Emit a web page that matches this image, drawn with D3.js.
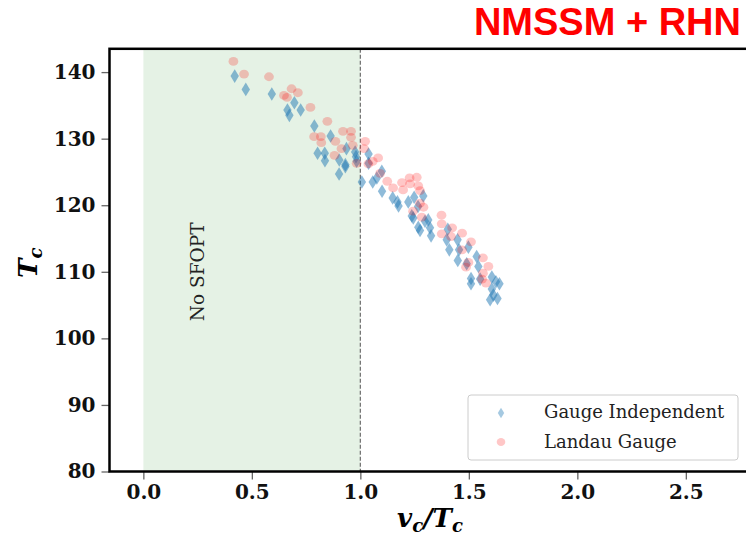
<!DOCTYPE html>
<html>
<head>
<meta charset="utf-8">
<script src="https://cdn.jsdelivr.net/npm/d3@7"></script>
<style>
  body { margin: 0; background: #fff; }
  svg { display: block; }
</style>
</head>
<body>
<div id="chart"></div>
<script>
// Gauge Independent (blue diamonds): [vc/Tc, Tc]
const gaugeIndependent = [
  [0.421, 139.4], [0.472, 137.4], [0.592, 136.7], [0.696, 135.4], [0.725, 134.3],
  [0.664, 134.3], [0.673, 133.5], [0.788, 131.9], [0.863, 130.4], [0.936, 128.5],
  [0.803, 127.8], [0.836, 127.8], [0.837, 126.7], [0.903, 126.8], [0.931, 126.1],
  [0.931, 125.8], [0.902, 124.7], [0.976, 128.0], [0.980, 127.3], [0.983, 126.6],
  [1.038, 127.7], [1.038, 126.3], [1.007, 123.5], [1.057, 123.5], [1.076, 124.1],
  [1.099, 125.1], [1.100, 122.1], [1.149, 121.1], [1.171, 120.5], [1.176, 119.9],
  [1.221, 120.5], [1.248, 121.2], [1.290, 121.4], [1.266, 119.8], [1.237, 118.4],
  [1.244, 118.1], [1.298, 117.6], [1.313, 117.8], [1.267, 116.7], [1.321, 116.6],
  [1.326, 115.4], [1.275, 116.2], [1.403, 116.4], [1.398, 114.8], [1.410, 113.3],
  [1.448, 114.8], [1.455, 113.3], [1.449, 111.7], [1.498, 113.7], [1.490, 111.2],
  [1.536, 112.3], [1.544, 110.8], [1.510, 109.0], [1.510, 108.2], [1.552, 108.9],
  [1.606, 109.2], [1.625, 108.5], [1.641, 108.2], [1.606, 107.4], [1.613, 106.5],
  [1.598, 105.8], [1.632, 106.0]
];

// Landau Gauge (red circles): [vc/Tc, Tc]
const landauGauge = [
  [0.415, 141.6], [0.464, 139.7], [0.579, 139.3], [0.648, 136.5], [0.662, 136.2],
  [0.683, 137.5], [0.712, 136.9], [0.770, 134.7], [0.848, 132.6], [0.920, 131.1],
  [0.957, 131.1], [0.957, 130.2], [0.787, 130.3], [0.818, 130.3], [0.820, 129.4],
  [0.885, 129.6], [1.022, 129.6], [0.913, 128.5], [0.965, 129.0], [1.017, 128.5],
  [0.881, 127.5], [1.082, 127.1], [1.057, 126.6], [0.983, 126.3], [1.037, 126.2],
  [1.124, 123.6], [1.192, 123.4], [1.151, 122.6], [1.197, 122.3], [1.227, 124.1],
  [1.260, 124.2], [1.229, 123.2], [1.267, 122.9], [1.275, 122.2], [1.275, 120.3],
  [1.291, 119.7], [1.243, 119.1], [1.283, 118.2], [1.374, 118.5], [1.375, 117.2],
  [1.423, 116.6], [1.375, 115.7], [1.418, 115.3], [1.469, 115.8], [1.510, 114.5],
  [1.469, 113.3], [1.498, 111.4], [1.487, 110.7], [1.565, 112.1], [1.590, 110.8],
  [1.565, 109.8], [1.561, 108.9], [1.579, 108.3], [1.091, 124.8]
];

const xTicks = [0.0, 0.5, 1.0, 1.5, 2.0, 2.5];
const yTicks = [80, 90, 100, 110, 120, 130, 140];
const seriesNames = ["Gauge Independent", "Landau Gauge"];

const W = 746, H = 536;
const margin = {top: 48.8, right: -4.5, bottom: 64.5, left: 109.5};
const width = W - margin.left - margin.right;
const height = H - margin.top - margin.bottom;

const svg = d3.select("#chart").append("svg")
  .attr("width", W)
  .attr("height", H);

const x = d3.scaleLinear().domain([-0.156, 2.798]).range([0, width]);
const y = d3.scaleLinear().domain([80, 143.5]).range([height, 0]);

// title
svg.append("text")
  .attr("x", 741)
  .attr("y", 35)
  .attr("text-anchor", "end")
  .attr("font-family", "Liberation Sans, Arial, sans-serif")
  .attr("font-weight", "bold")
  .attr("font-size", 38)
  .attr("fill", "#ff0000")
  .text("NMSSM + RHN");

const g = svg.append("g")
  .attr("transform", "translate(" + margin.left + "," + margin.top + ")");

// zone No SFOPT
g.append("rect")
  .attr("x", x(0))
  .attr("y", 0)
  .attr("width", x(1) - x(0))
  .attr("height", height)
  .attr("fill", "green")
  .attr("fill-opacity", 0.1);

g.append("line")
  .attr("x1", x(1)).attr("x2", x(1))
  .attr("y1", 0).attr("y2", height)
  .attr("stroke", "#777")
  .attr("stroke-width", 1.3)
  .attr("stroke-dasharray", "4,2");

g.append("text")
  .attr("transform", "translate(" + (x(0.25) + 6) + "," + y(110) + ") rotate(-90)")
  .attr("text-anchor", "middle")
  .attr("font-family", "DejaVu Serif, serif")
  .attr("font-size", 18.5)
  .attr("fill", "#222")
  .text("No SFOPT");

// points
const diamond = (cx, cy, w, h) =>
  "M" + cx + "," + (cy - h) + "L" + (cx + w) + "," + cy + "L" + cx + "," + (cy + h) + "L" + (cx - w) + "," + cy + "Z";

g.selectAll(".gi")
  .data(gaugeIndependent)
  .join("path")
  .attr("class", "gi")
  .attr("d", d => diamond(x(d[0]), y(d[1]), 4.2, 6.8))
  .attr("fill", "#1f77b4")
  .attr("fill-opacity", 0.5);

g.selectAll(".lg")
  .data(landauGauge)
  .join("ellipse")
  .attr("class", "lg")
  .attr("cx", d => x(d[0]))
  .attr("cy", d => y(d[1]))
  .attr("rx", 4.9)
  .attr("ry", 4.4)
  .attr("fill", "#ff0000")
  .attr("fill-opacity", 0.22);

// axes
const xAxis = g.append("g")
  .attr("transform", "translate(0," + height + ")")
  .call(d3.axisBottom(x).tickValues(xTicks).tickFormat(d3.format(".1f")).tickSize(8).tickPadding(5));

const yAxis = g.append("g")
  .call(d3.axisLeft(y).tickValues(yTicks).tickSize(8).tickPadding(6));

[xAxis, yAxis].forEach(a => {
  a.select(".domain").remove();
  a.selectAll(".tick line").attr("stroke", "#666").attr("stroke-width", 1.3);
  a.selectAll(".tick text")
    .attr("font-family", "DejaVu Serif, serif")
    .attr("font-weight", "bold")
    .attr("font-size", 20)
    .attr("fill", "#111");
});

// spines
g.append("rect")
  .attr("x", 0).attr("y", 0)
  .attr("width", width).attr("height", height)
  .attr("fill", "none")
  .attr("stroke", "#000")
  .attr("stroke-width", 2.5);

// axis labels
const xl = svg.append("text")
  .attr("x", margin.left + width / 2)
  .attr("y", 527)
  .attr("text-anchor", "middle")
  .attr("font-family", "DejaVu Serif, serif")
  .attr("font-weight", "bold")
  .attr("font-style", "italic")
  .attr("font-size", 26)
  .attr("fill", "#000");
xl.append("tspan").text("v");
xl.append("tspan").attr("font-size", 18).attr("dy", 5).text("c");
xl.append("tspan").attr("dy", -5).text("/T");
xl.append("tspan").attr("font-size", 18).attr("dy", 5).text("c");

const yl = svg.append("text")
  .attr("transform", "translate(37," + (margin.top + y(110) - 9) + ") rotate(-90)")
  .attr("text-anchor", "middle")
  .attr("font-family", "DejaVu Serif, serif")
  .attr("font-weight", "bold")
  .attr("font-style", "italic")
  .attr("font-size", 26)
  .attr("fill", "#000");
yl.append("tspan").text("T");
yl.append("tspan").attr("font-size", 18).attr("dy", 5).text("c");

// legend
const leg = svg.append("g").attr("transform", "translate(468,395)");
leg.append("rect")
  .attr("width", 270).attr("height", 65)
  .attr("rx", 3)
  .attr("fill", "#fff").attr("fill-opacity", 0.8)
  .attr("stroke", "#ccc").attr("stroke-width", 1);

leg.append("path")
  .attr("d", diamond(33, 18, 3.2, 5.3))
  .attr("fill", "#1f77b4").attr("fill-opacity", 0.4);
leg.append("ellipse")
  .attr("cx", 33).attr("cy", 47)
  .attr("rx", 4.3).attr("ry", 4)
  .attr("fill", "#ff0000").attr("fill-opacity", 0.22);

leg.selectAll(".lt")
  .data(seriesNames)
  .join("text")
  .attr("class", "lt")
  .attr("x", 76)
  .attr("y", (d, i) => 23 + i * 29.5)
  .attr("font-family", "DejaVu Serif, serif")
  .attr("font-size", 18)
  .attr("fill", "#222")
  .text(d => d);
</script>
</body>
</html>
